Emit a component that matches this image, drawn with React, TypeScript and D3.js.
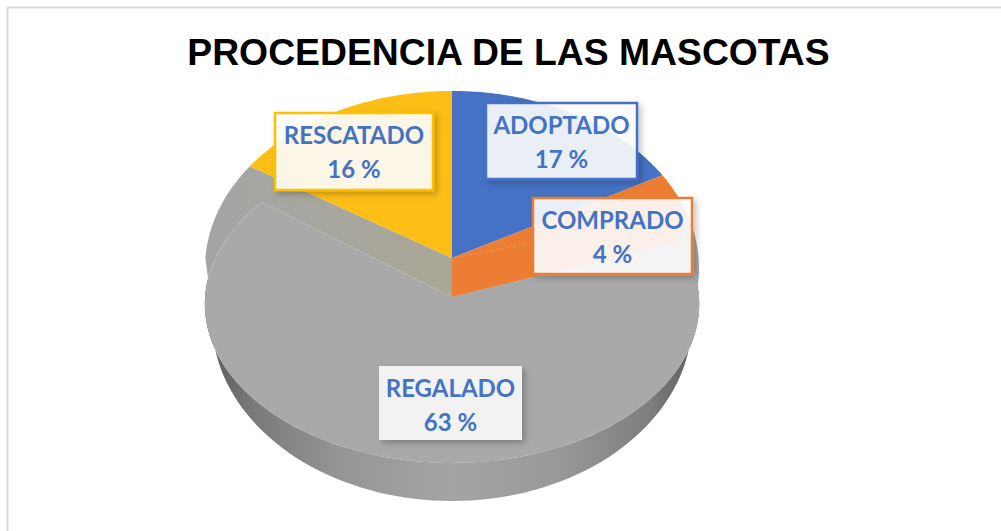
import React from "react";
import * as d3 from "d3";

const categories = ["ADOPTADO", "COMPRADO", "REGALADO", "RESCATADO"];
const shares = [17, 4, 63, 16];
const sliceColors = ["#4472C4", "#ED7D31", "#A9A9A9", "#FDBF16"];
const borderColors = ["#4472C4", "#ED7D31", "none", "#FFC000"];
const boxFills = ["#ffffff", "#ffffff", "#f2f2f2", "#ffffff"];
const boxX = [486, 533, 379, 275];
const boxY = [103, 198, 366, 113];
const boxW = [151, 159, 143, 158];
const boxH = [76, 76, 74, 77];
const title = "PROCEDENCIA DE LAS MASCOTAS";

type P = [number, number];
const project = (cx: number, cy: number, A: number, B: number, k: number) => (t: number): P => {
  const u = Math.sin(t), v = Math.cos(t), w = 1 + k * v;
  return [cx + (A * u) / w, cy - (B * v) / w];
};
const topP = project(452, 258, 246.6, 176.4, 0.056);
const greyP = project(452, 278.5, 244, 155, 0.16);
const wallP = project(452, 320, 240, 181, 0);
const apexTop: P = [452, 258];
const apexGrey: P = [452, 297];

const pie = d3.pie<number>().sort(null).startAngle(0).endAngle(2 * Math.PI);
const arcs = pie(shares);
const line = d3.line<P>().curve(d3.curveLinear);
const sample = (a: number, b: number, f: (t: number) => P) => d3.range(0, 81).map((i) => f(a + ((b - a) * i) / 80));
const wedge = (i: number) => line([apexTop, ...sample(arcs[i].startAngle, arcs[i].endAngle, topP)]) + "Z";

const greyStart = arcs[2].startAngle, greyEnd = arcs[2].endAngle;
const greySurface = line([apexGrey, ...sample(greyStart, greyEnd, greyP)]) + "Z";
const rimLeft = line([apexTop, ...sample(greyEnd, Math.PI * 1.5, topP), ...sample(Math.PI * 1.5, greyEnd, greyP), apexGrey]) + "Z";
const rimRight = line([apexTop, ...sample(greyStart, Math.PI * 0.6, topP), ...sample(Math.PI * 0.6, greyStart, greyP), apexGrey]) + "Z";
const orangeWall = line([apexTop, topP(arcs[1].endAngle), greyP(greyStart), apexGrey]) + "Z";
const wall = line([...sample(Math.PI * 0.5, Math.PI * 1.5, wallP), ...sample(Math.PI * 1.5, Math.PI * 0.5, greyP)]) + "Z";

export default function App() {
  return (
    <svg width={1001} height={531} style={{ position: "absolute", left: 0, top: 0, display: "block", background: "#fff" }}>
      <defs>
        <linearGradient id="wallG" x1="0" x2="1" y1="0" y2="0">
          <stop offset="0" stopColor="#5a5a5a" />
          <stop offset="0.1" stopColor="#7a7a7a" />
          <stop offset="0.28" stopColor="#969696" />
          <stop offset="0.5" stopColor="#a4a4a4" />
          <stop offset="0.72" stopColor="#989898" />
          <stop offset="0.9" stopColor="#7e7e7e" />
          <stop offset="1" stopColor="#5a5a5a" />
        </linearGradient>
        <linearGradient id="rimG" gradientUnits="userSpaceOnUse" x1="205" x2="452" y1="0" y2="0">
          <stop offset="0" stopColor="#a4a4a4" />
          <stop offset="0.3" stopColor="#a6a6a2" />
          <stop offset="1" stopColor="#aaa796" />
        </linearGradient>
        <filter id="shadow" x="-20%" y="-20%" width="140%" height="140%">
          <feDropShadow dx="3" dy="3" stdDeviation="3" floodColor="#000" floodOpacity="0.25" />
        </filter>
        <filter id="soft" x="-5%" y="-5%" width="110%" height="110%">
          <feGaussianBlur stdDeviation="0.7" />
        </filter>
      </defs>
      <path d="M7.5 531V7.5H1001" fill="none" stroke="#d9d9d9" strokeWidth={2} />
      <text x={508.5} y={64.5} textAnchor="middle" fontFamily="Liberation Sans" fontWeight={700} fontSize={37.3} fill="#000">{title}</text>

      <g filter="url(#soft)">
        <path d={wall} fill="url(#wallG)" />
        <path d={rimLeft} fill="url(#rimG)" />
        <path d={rimRight} fill="#a6a6a6" />
        <path d={orangeWall} fill={sliceColors[1]} />
        {arcs.map((a, i) => i === 2 ? null : <path key={categories[i]} d={wedge(i)} fill={sliceColors[i]} />)}
        <path d={greySurface} fill={sliceColors[2]} />
      </g>

      {categories.map((c, i) => (
        <g key={c}>
          <rect x={boxX[i]} y={boxY[i]} width={boxW[i]} height={boxH[i]} fill={boxFills[i]} fillOpacity={i === 2 ? 1 : 0.88}
            stroke={borderColors[i]} strokeWidth={borderColors[i] === "none" ? 0 : 2.5} filter="url(#shadow)" />
          <text textAnchor="middle" fontFamily="Lato" fontWeight={700} fontSize={24} fill="#4472C4">
            <tspan x={boxX[i] + boxW[i] / 2} y={boxY[i] + 31}>{c}</tspan>
            <tspan x={boxX[i] + boxW[i] / 2} y={boxY[i] + 64.5}>{shares[i]} %</tspan>
          </text>
        </g>
      ))}
    </svg>
  );
}
